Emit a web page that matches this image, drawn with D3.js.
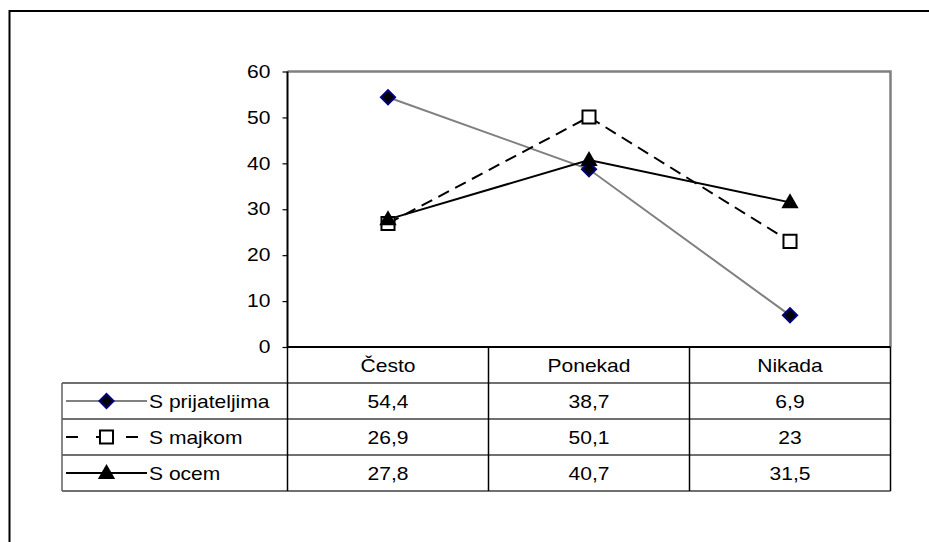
<!DOCTYPE html>
<html>
<head>
<meta charset="utf-8">
<script src="https://cdn.jsdelivr.net/npm/d3@7"></script>
<style>
  body { margin: 0; background: #fff; }
  text { font-family: "Liberation Sans", Arial, sans-serif; font-size: 17.7px; fill: #000; }
</style>
</head>
<body>
<div id="chart"></div>
<script>
const width = 929;
const height = 542;

// DATA
const categories = ["Često", "Ponekad", "Nikada"];
const seriesNames = ["S prijateljima", "S majkom", "S ocem"];
const prijateljima = [54.4, 38.7, 6.9];
const majkom = [26.9, 50.1, 23];
const ocem = [27.8, 40.7, 31.5];
const yTicks = [0, 10, 20, 30, 40, 50, 60];

const series = [
    { name: seriesNames[0], values: prijateljima, color: "#808080", dash: null, keyDash: null, marker: "diamond" },
    { name: seriesNames[1], values: majkom, color: "#000", dash: "12,7", keyDash: "12,18", marker: "square" },
    { name: seriesNames[2], values: ocem, color: "#000", dash: null, keyDash: null, marker: "triangle" }
];

const plot = { left: 287.5, right: 890.5, top: 71.5, bottom: 347 };
const tableLeft = 62;
const headerH = 36;
const rowH = 36;
const sx = 1.19; // text is stretched sideways in the original

const svg = d3.select("#chart")
    .append("svg")
    .attr("width", width)
    .attr("height", height);

// stretched text helper
function label(g, xPos, yPos, str, anchor) {
    return g.append("text")
        .attr("transform", `translate(${xPos},${yPos}) scale(${sx},1)`)
        .attr("text-anchor", anchor || "start")
        .text(str);
}

// OUTER BORDER
svg.append("rect")
    .attr("x", 9.5)
    .attr("y", 11)
    .attr("width", width + 20)
    .attr("height", height + 20)
    .attr("fill", "none")
    .attr("stroke", "#000")
    .attr("stroke-width", 2);

const x = d3.scaleBand()
    .domain(categories)
    .range([plot.left, plot.right]);

const y = d3.scaleLinear()
    .domain([0, 60])
    .range([plot.bottom, plot.top]);

// PLOT FRAME (top and right)
svg.append("path")
    .attr("d", `M${plot.left},${plot.top}H${plot.right}V${plot.bottom}`)
    .attr("fill", "none")
    .attr("stroke", "#808080")
    .attr("stroke-width", 2.5);

// Y AXIS
const yAxis = svg.append("g")
    .attr("transform", `translate(${plot.left},0)`)
    .call(d3.axisLeft(y).tickValues(yTicks).tickSize(5).tickPadding(12));
yAxis.select(".domain").attr("stroke-width", 2).attr("d", `M0,${plot.top}V${plot.bottom}`);
yAxis.selectAll(".tick line").attr("stroke-width", 1.2);
yAxis.selectAll(".tick text")
    .attr("x", -17 / sx)
    .attr("transform", `scale(${sx},1)`)
    .style("font-family", "Liberation Sans, Arial, sans-serif")
    .style("font-size", "17.7px");

// MARKERS
const symbolFor = {
    diamond: d3.symbol().type(d3.symbolSquare).size(100),
    square: d3.symbol().type(d3.symbolSquare).size(170),
    triangle: d3.symbol().type(d3.symbolTriangle).size(130)
};

function drawMarker(g, type, cx, cy) {
    const p = g.append("path")
        .attr("d", symbolFor[type]())
        .attr("transform", type === "diamond"
            ? `translate(${cx},${cy}) rotate(45)`
            : `translate(${cx},${cy + (type === "triangle" ? 1 : 0)})`);
    if (type === "diamond") {
        p.attr("fill", "#000").attr("stroke", "#000080").attr("stroke-width", 2);
    } else if (type === "square") {
        p.attr("fill", "#fff").attr("stroke", "#000").attr("stroke-width", 2);
    } else {
        p.attr("fill", "#000");
    }
}

// LINES
const line = d3.line()
    .x((d, i) => x(categories[i]) + x.bandwidth() / 2)
    .y(d => y(d));

series.forEach(s => {
    svg.append("path")
        .datum(s.values)
        .attr("fill", "none")
        .attr("stroke", s.color)
        .attr("stroke-width", 2)
        .attr("stroke-dasharray", s.dash)
        .attr("d", line);
});

series.forEach(s => {
    const g = svg.append("g");
    s.values.forEach((v, i) => {
        drawMarker(g, s.marker, x(categories[i]) + x.bandwidth() / 2, y(v));
    });
});

// X AXIS
svg.append("line")
    .attr("x1", plot.left).attr("x2", plot.right)
    .attr("y1", plot.bottom).attr("y2", plot.bottom)
    .attr("stroke", "#000")
    .attr("stroke-width", 2);

// DATA TABLE
const tableTop = plot.bottom + headerH;
const tableBottom = tableTop + rowH * series.length;

// horizontal row lines
d3.range(series.length + 1).forEach(i => {
    svg.append("line")
        .attr("x1", tableLeft).attr("x2", plot.right)
        .attr("y1", tableTop + i * rowH).attr("y2", tableTop + i * rowH)
        .attr("stroke", "#404040")
        .attr("stroke-width", 1.5);
});

// vertical lines
svg.append("line")
    .attr("x1", tableLeft).attr("x2", tableLeft)
    .attr("y1", tableTop).attr("y2", tableBottom)
    .attr("stroke", "#606060")
    .attr("stroke-width", 1.5);

[x(categories[0]), x(categories[1]), x(categories[2]), plot.right].forEach(xx => {
    svg.append("line")
        .attr("x1", xx).attr("x2", xx)
        .attr("y1", plot.bottom).attr("y2", tableBottom)
        .attr("stroke", "#000")
        .attr("stroke-width", 1.5);
});

// header labels
categories.forEach(c => {
    label(svg, x(c) + x.bandwidth() / 2, plot.bottom + headerH / 2 + 6.5, c, "middle");
});

const fmt = v => String(v).replace(".", ",");

// rows
series.forEach((s, r) => {
    const cy = tableTop + r * rowH + rowH / 2;
    const g = svg.append("g");

    // legend key
    g.append("line")
        .attr("x1", 66).attr("x2", 147)
        .attr("y1", cy).attr("y2", cy)
        .attr("stroke", s.color)
        .attr("stroke-width", 2)
        .attr("stroke-dasharray", s.keyDash);
    drawMarker(g, s.marker, 106.5, cy);

    label(g, 149, cy + 6.5, s.name);

    s.values.forEach((v, i) => {
        label(g, x(categories[i]) + x.bandwidth() / 2, cy + 6.5, fmt(v), "middle");
    });
});
</script>
</body>
</html>
